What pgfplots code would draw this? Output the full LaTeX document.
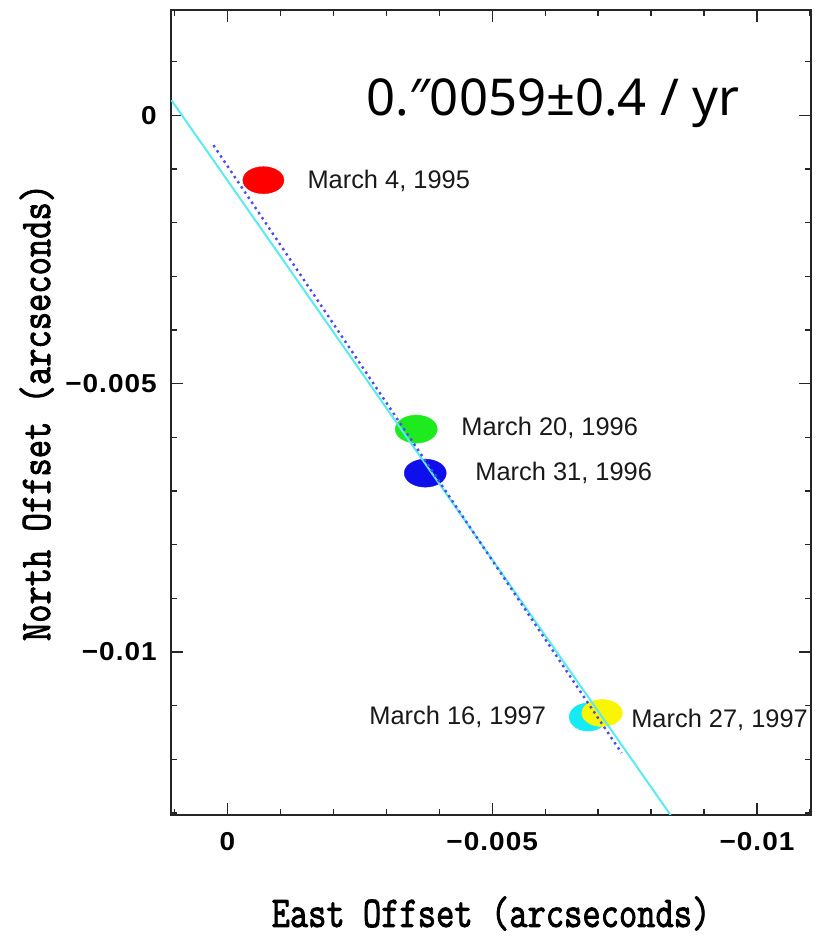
\documentclass[border=0pt]{standalone}
\usepackage{fontspec}
\usepackage{pgfplots}
\pgfplotsset{compat=1.18}
\newfontfamily\labfont{Liberation Sans}
\newfontfamily\tickfont{Liberation Sans}[FakeStretch=1.08, LetterSpace=4]
\newfontfamily\monofont{Latin Modern Mono}[FakeBold=2.2]
\newfontfamily\titlefont{Noto Sans}
\definecolor{cline}{RGB}{90,235,240}
\definecolor{cgreen}{RGB}{30,235,30}
\definecolor{cblue}{RGB}{15,15,235}
\definecolor{ccyan}{RGB}{20,235,245}
\definecolor{cyellow}{RGB}{250,245,0}
\begin{document}
\begin{tikzpicture}
\path[use as bounding box] (0,0) rectangle (817bp,940bp);
\begin{axis}[
  at={(171bp,125bp)}, anchor=south west,
  scale only axis, width=640bp, height=805bp,
  x dir=reverse,
  xmin=-0.01102, xmax=0.001066,
  ymin=-0.013035, ymax=0.00196,
  scaled ticks=false,
  xtick={-0.01,-0.005,0}, xticklabels={−0.01,−0.005,0},
  ytick={-0.01,-0.005,0}, yticklabels={−0.01,−0.005,0},
  minor xtick={-0.011,-0.009,-0.008,-0.007,-0.006,-0.004,-0.003,-0.002,-0.001,0.001},
  minor ytick={-0.013,-0.012,-0.011,-0.009,-0.008,-0.007,-0.006,-0.004,-0.003,-0.002,-0.001,0.001},
  xtick pos=both, ytick pos=both, tick align=inside,
  major tick length=12bp, minor tick length=6bp,
  every tick/.style={black!85, line width=1.3bp},
  axis line style={black!85, line width=1.8bp},
  tick label style={inner sep=0pt, font=\tickfont\bfseries\fontsize{26}{26}\selectfont},
  xticklabel style={anchor=north, yshift=-17bp},
  yticklabel style={anchor=east, xshift=-14bp},
  xlabel={\scalebox{0.81}[1]{\monofont\fontsize{44}{44}\selectfont East Offset (arcseconds)}},
  ylabel={\scalebox{0.81}[1]{\monofont\fontsize{44}{44}\selectfont North Offset (arcseconds)}},
  xlabel style={at={(axis description cs:0.5,-0.139)}, anchor=base, inner sep=0pt},
  ylabel style={at={(axis description cs:-0.189,0.5)}, anchor=base, inner sep=0pt},
  clip mode=individual,
]
% measured positions (ellipses)
\addplot[only marks, mark=*, mark size=13.5bp, mark options={xscale=1.52, fill=red, draw=red}] coordinates {(-0.000679,-0.00121)};
\addplot[only marks, mark=*, mark size=14bp, mark options={xscale=1.5, fill=cgreen, draw=cgreen}] coordinates {(-0.003566,-0.005847)};
\addplot[only marks, mark=*, mark size=14bp, mark options={xscale=1.5, fill=cblue, draw=cblue}] coordinates {(-0.003736,-0.006667)};
\addplot[only marks, mark=*, mark size=14bp, mark options={xscale=1.35, fill=ccyan, draw=ccyan}] coordinates {(-0.006811,-0.01121)};
\addplot[only marks, mark=*, mark size=13.5bp, mark options={xscale=1.5, fill=cyellow, draw=cyellow}] coordinates {(-0.007075,-0.011136)};
% fitted lines
\addplot[cline, line width=2bp] coordinates {(0.001057,0.000279) (-0.008368,-0.013035)};
\addplot[cblue!75!white, line width=2.4bp, dash pattern=on 2.4bp off 3.8bp] coordinates {(0.000264,-0.000559) (-0.007443,-0.01188)};
% labels
\node[anchor=west, inner sep=0pt, font=\labfont\fontsize{25.5}{25.5}\selectfont, text=black!90] at (axis cs:-0.001509,-0.001229) {March 4, 1995};
\node[anchor=west, inner sep=0pt, font=\labfont\fontsize{25.5}{25.5}\selectfont, text=black!90] at (axis cs:-0.004415,-0.005829) {March 20, 1996};
\node[anchor=west, inner sep=0pt, font=\labfont\fontsize{25.5}{25.5}\selectfont, text=black!90] at (axis cs:-0.004679,-0.006667) {March 31, 1996};
\node[anchor=east, inner sep=0pt, font=\labfont\fontsize{25.5}{25.5}\selectfont, text=black!90] at (axis cs:-0.006019,-0.011210) {March 16, 1997};
\node[anchor=west, inner sep=0pt, font=\labfont\fontsize{25.5}{25.5}\selectfont, text=black!90] at (axis cs:-0.007623,-0.011266) {March 27, 1997};
\node[anchor=base west, inner sep=0pt, font=\titlefont\fontsize{51}{51}\selectfont] at (axis cs:-0.002623,0) {0.″0059±0.4 / yr};
\end{axis}
\end{tikzpicture}
\end{document}
